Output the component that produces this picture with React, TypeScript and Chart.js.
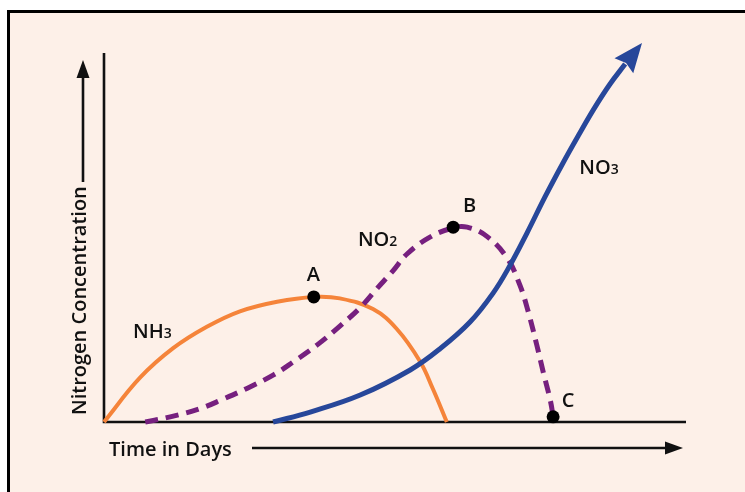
import React, { useEffect, useRef } from "react";
import { Chart, registerables } from "chart.js";

Chart.register(...registerables);

// NH3 (orange, solid)
const nh3X = [0, 6.2, 11.9, 17.7, 23.4, 29.8, 36.1, 40.6, 46.3, 50.4, 54.4, 56.6, 59.0];
const nh3Y = [0, 12.0, 20.0, 25.8, 30.0, 32.6, 33.9, 33.5, 30.6, 25.2, 16.4, 9.0, 0];

// NO2 (purple, dashed)
const no2X = [7.1, 11.4, 16.5, 20.5, 24.6, 29.1, 32.5, 36.7, 40.6, 44.1, 47.0, 49.7, 52.2, 56.1, 60.1, 62.5, 65.9, 69.4, 71.6, 73.0, 74.5, 75.6, 76.8, 77.3];
const no2Y = [0, 1.4, 3.6, 6.2, 9.1, 12.7, 16.2, 20.9, 26.0, 31.0, 36.2, 40.9, 45.6, 50.1, 52.6, 52.8, 50.3, 44.4, 37.0, 30.0, 20.8, 13.5, 6.0, 1.6];

// NO3 (blue, solid, ends with arrow)
const no3X = [29.1, 35.5, 44.1, 52.7, 57.8, 63.0, 67.0, 69.9, 72.8, 75.9, 79.0, 81.6, 84.3, 87.1, 89.7];
const no3Y = [0, 2.7, 7.3, 14.1, 19.8, 27.1, 35.0, 42.5, 51.2, 61.0, 70.2, 77.5, 84.8, 91.6, 97.0];
const no3ArrowTip = { x: 92.6, y: 102.7 };

// Marked points A, B, C
const markNames = ["A", "B", "C"];
const markX = [36.1, 60.1, 77.3];
const markY = [33.9, 52.8, 1.4];

// Curve labels (main text, smaller suffix) anchored in data units
const labelText = ["NH", "NO", "NO", "A", "B", "C"];
const labelSub = ["3", "2", "3", "", "", ""];
const labelX = [5.0, 43.7, 81.8, 34.9, 61.8, 78.8];
const labelY = [22.8, 47.7, 67.2, 38.2, 56.9, 4.1];

const xTitle = "Time in Days";
const yTitle = "Nitrogen Concentration";

const FONT = '"Open Sans", "DejaVu Sans", sans-serif';

function pts(xs: number[], ys: number[]) {
  return xs.map((x, i) => ({ x, y: ys[i] }));
}

const decorPlugin = {
  id: "decor",
  beforeDatasetsDraw(chart: any) {
    const { ctx, chartArea } = chart;
    const { left, right, top, bottom } = chartArea;
    ctx.save();
    ctx.strokeStyle = "#111";
    ctx.lineWidth = 2.6;
    ctx.lineCap = "butt";
    ctx.beginPath();
    ctx.moveTo(left, top);
    ctx.lineTo(left, bottom);
    ctx.lineTo(right + 1, bottom);
    ctx.stroke();
    ctx.restore();
  },
  afterDatasetsDraw(chart: any) {
    const { ctx, chartArea, scales } = chart;
    const xs = scales.x;
    const ys = scales.y;
    ctx.save();
    // Blue arrowhead
    const lx = xs.getPixelForValue(no3X[no3X.length - 1]);
    const ly = ys.getPixelForValue(no3Y[no3Y.length - 1]);
    const tx = xs.getPixelForValue(no3ArrowTip.x);
    const ty = ys.getPixelForValue(no3ArrowTip.y);
    const ang = Math.atan2(ty - ly, tx - lx);
    const len = 29;
    const hw = 12;
    const bx = tx - Math.cos(ang) * len;
    const by = ty - Math.sin(ang) * len;
    const nx = -Math.sin(ang);
    const ny = Math.cos(ang);
    ctx.fillStyle = "#27479a";
    ctx.beginPath();
    ctx.moveTo(tx, ty);
    ctx.lineTo(bx + nx * hw, by + ny * hw);
    ctx.lineTo(tx - Math.cos(ang) * len * 0.88, ty - Math.sin(ang) * len * 0.88);
    ctx.lineTo(bx - nx * hw, by - ny * hw);
    ctx.closePath();
    ctx.fill();

    // Labels
    ctx.fillStyle = "#111";
    ctx.textBaseline = "alphabetic";
    for (let i = 0; i < labelText.length; i++) {
      const px = xs.getPixelForValue(labelX[i]);
      const py = ys.getPixelForValue(labelY[i]);
      ctx.font = `600 20px ${FONT}`;
      ctx.textAlign = "left";
      ctx.fillText(labelText[i], px, py);
      const w = ctx.measureText(labelText[i]).width;
      if (labelSub[i]) {
        ctx.font = `600 14px ${FONT}`;
        ctx.fillText(labelSub[i], px + w, py);
      }
    }

    // Axis titles and arrows
    const { left, right, bottom } = chartArea;
    ctx.font = `600 20px ${FONT}`;
    ctx.textAlign = "left";
    ctx.fillText(xTitle, left + 5, bottom + 34);
    ctx.strokeStyle = "#111";
    ctx.fillStyle = "#111";
    ctx.lineWidth = 2.6;
    const ay = bottom + 26;
    const ax0 = left + 148;
    const axTip = right - 2;
    ctx.beginPath();
    ctx.moveTo(ax0, ay);
    ctx.lineTo(axTip - 15, ay);
    ctx.stroke();
    ctx.beginPath();
    ctx.moveTo(axTip, ay);
    ctx.lineTo(axTip - 18, ay - 6.5);
    ctx.lineTo(axTip - 18, ay + 6.5);
    ctx.closePath();
    ctx.fill();

    ctx.save();
    ctx.translate(left - 18, bottom - 7);
    ctx.rotate(-Math.PI / 2);
    ctx.textAlign = "left";
    ctx.fillText(yTitle, 0, 0);
    ctx.restore();
    const yx = left - 21;
    ctx.beginPath();
    ctx.moveTo(yx, bottom - 240);
    ctx.lineTo(yx, 76);
    ctx.stroke();
    ctx.beginPath();
    ctx.moveTo(yx, 60);
    ctx.lineTo(yx - 6.5, 78);
    ctx.lineTo(yx + 6.5, 78);
    ctx.closePath();
    ctx.fill();
    ctx.restore();
  },
};

export default function App() {
  const ref = useRef<HTMLCanvasElement | null>(null);
  useEffect(() => {
    if (!ref.current) return;
    const chart = new Chart(ref.current, {
      type: "line",
      data: {
        datasets: [
          {
            label: markNames.join(", "),
            data: pts(markX, markY),
            showLine: false,
            pointRadius: 6.5,
            pointBackgroundColor: "#000",
            pointBorderWidth: 0,
            clip: false,
            order: 0,
          } as any,
          {
            label: "NO3",
            data: pts(no3X, no3Y),
            borderColor: "#27479a",
            borderWidth: 5,
            pointRadius: 0,
            tension: 0.4,
            clip: false,
            order: 1,
          },
          {
            label: "NO2",
            data: pts(no2X, no2Y),
            borderColor: "#76207f",
            borderWidth: 5,
            borderDash: [13, 8],
            pointRadius: 0,
            tension: 0.4,
            clip: false,
            order: 2,
          },
          {
            label: "NH3",
            data: pts(nh3X, nh3Y),
            borderColor: "#f5843a",
            borderWidth: 4,
            pointRadius: 0,
            tension: 0.4,
            clip: false,
            order: 3,
          },
        ],
      },
      options: {
        animation: false,
        responsive: false,
        devicePixelRatio: 1,
        layout: { padding: { left: 104, right: 60, top: 53, bottom: 70 } },
        plugins: { legend: { display: false }, tooltip: { enabled: false } },
        events: [],
        scales: {
          x: { type: "linear", min: 0, max: 100, display: false },
          y: { type: "linear", min: 0, max: 100, display: false },
        },
      },
      plugins: [decorPlugin],
    });
    return () => chart.destroy();
  }, []);

  return (
    <div style={{ position: "fixed", left: 0, top: 0, width: 745, height: 492, background: "#fff", overflow: "hidden" }}>
      <div
        style={{
          position: "absolute",
          left: 7,
          top: 10,
          width: 800,
          height: 600,
          border: "3px solid #000",
          background: "#fdf0e8",
          boxSizing: "border-box",
        }}
      />
      <canvas ref={ref} width={745} height={492} style={{ position: "absolute", left: 0, top: 0, width: 745, height: 492 }} />
    </div>
  );
}
